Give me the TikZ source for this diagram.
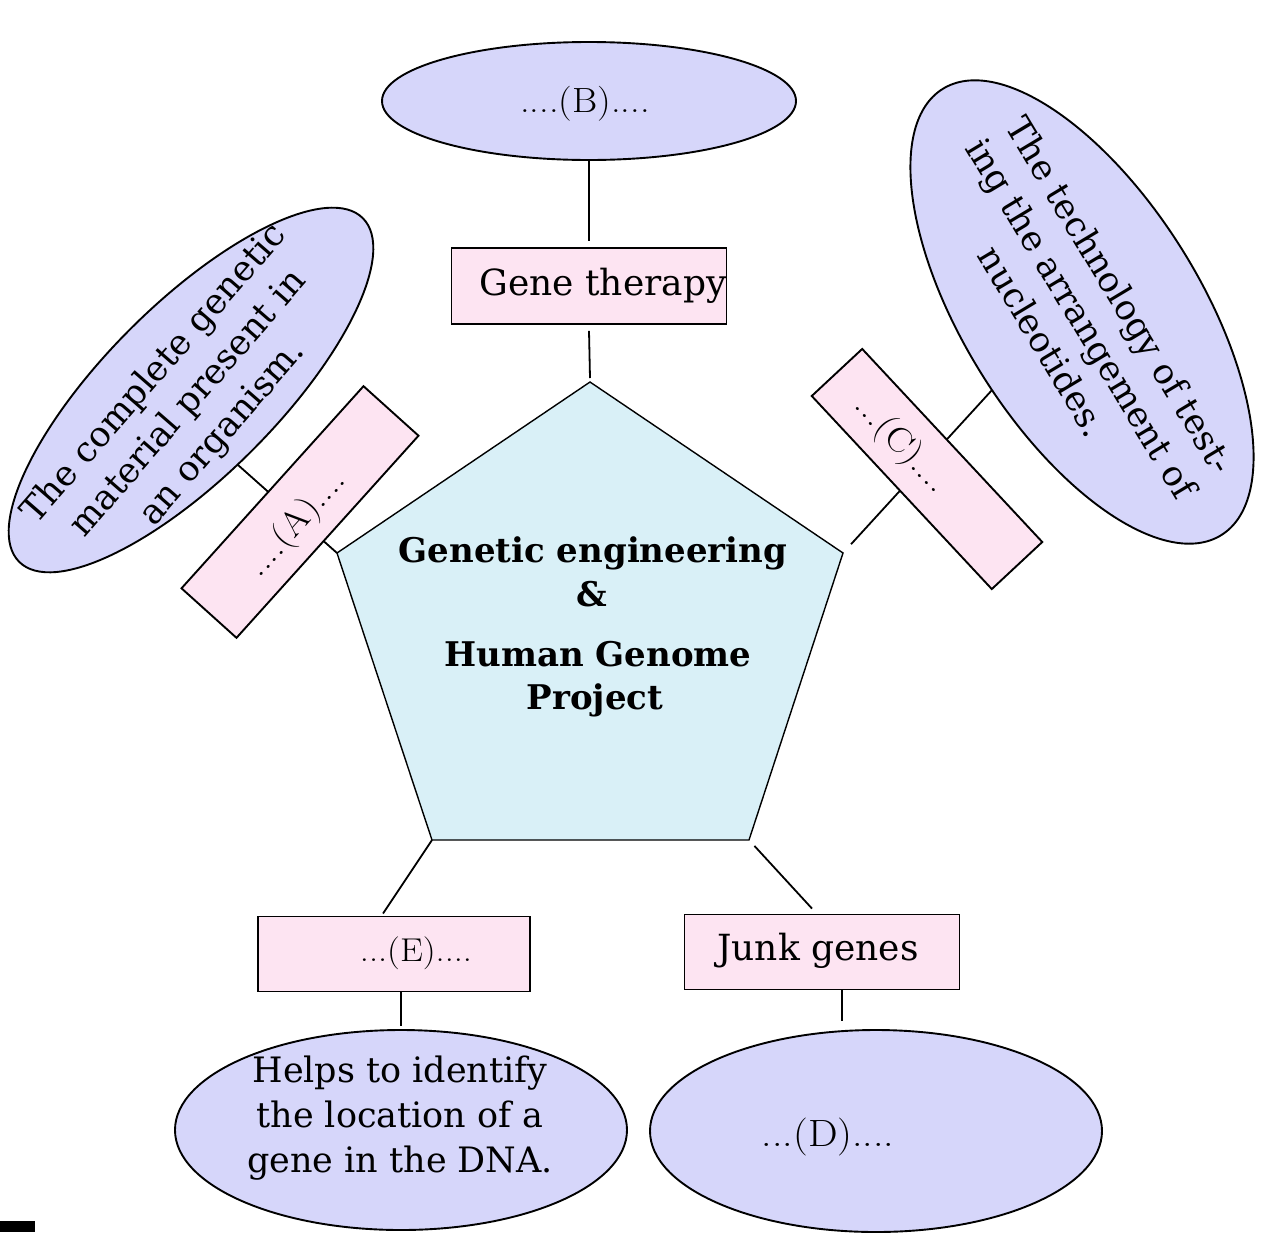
\documentclass[tikz,border=0pt]{standalone}
\usepackage{fontspec}
\setmainfont{DejaVu Serif}
\newfontfamily\phfont[FakeStretch=1.1]{Latin Modern Roman}
\usetikzlibrary{shapes.geometric}
\definecolor{ellfill}{RGB}{214,214,250}
\definecolor{boxfill}{RGB}{253,228,242}
\definecolor{pentfill}{RGB}{217,240,247}
\begin{document}
\begin{tikzpicture}[x=1pt,y=-1pt,
  ell/.style={ellipse, draw=black, line width=1.9pt, fill=ellfill, inner sep=0pt},
  lbox/.style={rectangle, draw=black, line width=1.9pt, fill=boxfill, inner sep=0pt},
  conn/.style={draw=black, line width=1.8pt},
  desc/.style={align=center, font=\fontsize{35}{45}\selectfont, inner sep=0pt},
  ttl/.style={font=\bfseries\fontsize{34}{40}\selectfont, anchor=base, inner sep=0pt},
  ph/.style={font=\phfont\fontsize{35}{40}\selectfont, inner sep=0pt},
  boxtxt/.style={font=\fontsize{36}{40}\selectfont, inner sep=0pt}]
\useasboundingbox (0,0) rectangle (1261,1232);
\fill[white] (0,0) rectangle (1261,1232);

% pentagon corners
\coordinate (P1) at (590,382);
\coordinate (P2) at (843,553);
\coordinate (P3) at (749,840);
\coordinate (P4) at (432,840);
\coordinate (P5) at (337,553);

% free ends on the tilted ellipses
\coordinate (Aend) at (238,465);
\coordinate (Cend) at (1003,378);
\coordinate (Dtop) at (842,1021);

% connectors that pass under the tilted boxes
\draw[conn] (Aend) -- (P5);
\draw[conn, shorten <=12pt] (P2) -- (Cend);

% central pentagon
\draw[fill=pentfill, line width=1.4pt, line join=miter] (P1) -- (P2) -- (P3) -- (P4) -- (P5) -- cycle;
\node[ttl] (T1) at (593,562) {Genetic engineering};
\node[ttl] (T2) at (592,606) {\&};
\node[ttl] (T3) at (598,666) {Human Genome};
\node[ttl] (T4) at (595,709) {Project};

% ellipses
\node[ell, minimum width=414pt, minimum height=118pt] (Bell) at (589,101) {};
\node[ph] (Blab) at (585,104) {....(B)....};

\node[ell, minimum width=486pt, minimum height=172pt, rotate=45] (Aell) at (191,390) {};
\node[desc, rotate=49] (Atxt) at (189,404) {The complete genetic\\material present in\\an organism.};

\node[ell, minimum width=526pt, minimum height=236pt, rotate=-58] (Cell) at (1082,312) {};
\node[desc, rotate=-59] (Ctxt) at (1082,318) {The technology of test-\\ing the arrangement of\\nucleotides.};

\node[ell, minimum width=452pt, minimum height=200pt] (Eell) at (401,1130) {};
\node[desc] (Etxt) at (400,1118) {Helps to identify\\the location of a\\gene in the DNA.};

\node[ell, minimum width=452pt, minimum height=202pt] (Dell) at (876,1131) {};
\node[ph, font=\phfont\fontsize{38}{40}\selectfont] (Dlab) at (828,1137) {...(D)....};

% boxes
\node[lbox, minimum width=275pt, minimum height=76pt] (GT) at (589,286) {};
\node[boxtxt] (GTlab) at (603,286) {Gene therapy};

\node[lbox, minimum width=272pt, minimum height=74pt, rotate=48] (Abox) at (300,512) {};
\node[ph, rotate=48] (Alab) at (297,524) {....(A)....};

\node[lbox, minimum width=264pt, minimum height=69pt, rotate=-47] (Cbox) at (927,469) {};
\node[ph, rotate=-47] (Clab) at (901,445) {...(C)....};

\node[lbox, minimum width=272pt, minimum height=75pt] (Ebox) at (394,954) {};
\node[ph, font=\phfont\fontsize{33}{36}\selectfont] (Elab) at (416,953) {...(E)....};

\node[lbox, minimum width=275pt, minimum height=75pt] (Jbox) at (822,952) {};
\node[boxtxt] (Jlab) at (818,951) {Junk genes};

% remaining connectors
\draw[conn] (Bell.south) -- ([yshift=6pt]GT.north);
\draw[conn] ([yshift=-6pt]GT.south) -- ([yshift=4pt]P1);
\draw[conn] (P4) -- ([xshift=-11pt,yshift=2pt]Ebox.north);
\draw[conn] (Ebox.south -| Eell.north) -- ([yshift=3pt]Eell.north);
\draw[conn, shorten <=8pt] (P3) -- ([xshift=-10pt,yshift=5pt]Jbox.north);
\draw[conn] ([xshift=20pt]Jbox.south) -- (Dtop);

% black mark at bottom left
\fill[black] (0,1221) rectangle (35,1232);
\end{tikzpicture}
\end{document}
